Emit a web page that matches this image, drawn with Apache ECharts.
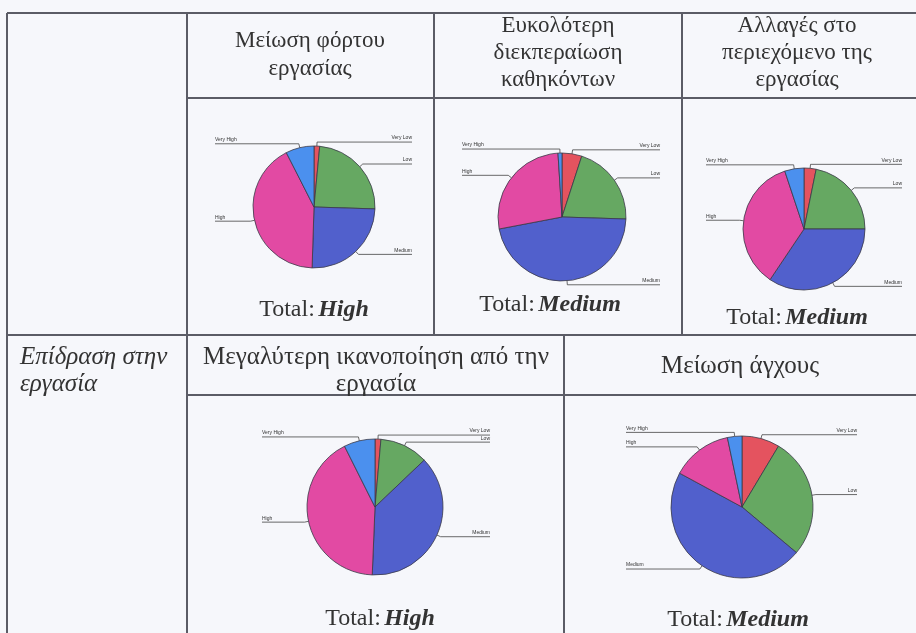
<!DOCTYPE html>
<html>
<head>
<meta charset="utf-8">
<title>Επίδραση στην εργασία</title>
<script src="https://cdn.jsdelivr.net/npm/echarts@6/dist/echarts.min.js"></script>
<style>
  html, body { margin: 0; padding: 0; background: #f6f7fb; }
  #chart { width: 916px; height: 633px; }
</style>
</head>
<body>
<div id="chart"></div>
<script>
// κατηγορίες (δεξιόστροφα από τις 12)
const levels = ['Very Low', 'Low', 'Medium', 'High', 'Very High']
const levelColors = ['#e4535f', '#66a862', '#5160cc', '#e24aa3', '#4b90ee']

// ποσοστά ανά γράφημα (εκτίμηση από την εικόνα)
const workloadValues = [1.5, 24, 25, 42, 7.5]
const tasksValues = [5, 20.5, 46.5, 27, 1]
const contentValues = [3.2, 21.8, 34.4, 35.5, 5.1]
const satisfactionValues = [1.4, 11.5, 37.8, 42, 7.4]
const stressValues = [8.6, 27.5, 46.8, 13.8, 3.3]

// κείμενα
const headerTitles = [
  ['Μείωση φόρτου', 'εργασίας'],
  ['Ευκολότερη', 'διεκπεραίωση', 'καθηκόντων'],
  ['Αλλαγές στο', 'περιεχόμενο της', 'εργασίας'],
  ['Μεγαλύτερη ικανοποίηση από την', 'εργασία'],
  ['Μείωση άγχους']
]
const totals = ['High', 'Medium', 'Medium', 'High', 'Medium']
const rowLabel = ['Επίδραση στην', 'εργασία']

const chart = echarts.init(document.getElementById('chart'))

// θέσεις κελιών / πιτών
const cells = [
  { box: [215, 412], cx: 314, cy: 207, r: 61, values: workloadValues, titleX: 310, titleY: [41, 69], titleSize: 23, totalX: 314, totalY: 310 },
  { box: [462, 660], cx: 562, cy: 217, r: 64, values: tasksValues, titleX: 558, titleY: [26, 53, 80], titleSize: 23, totalX: 550, totalY: 305 },
  { box: [706, 902], cx: 804, cy: 229, r: 61, values: contentValues, titleX: 797, titleY: [26, 53, 80], titleSize: 23, totalX: 797, totalY: 318 },
  { box: [262, 490], cx: 375, cy: 507, r: 68, values: satisfactionValues, titleX: 376, titleY: [357, 384], titleSize: 25, totalX: 380, totalY: 619 },
  { box: [626, 857], cx: 742, cy: 507, r: 71, values: stressValues, titleX: 740, titleY: [366], titleSize: 25, totalX: 738, totalY: 620 }
]

const lineColor = '#5b5c66'
const serif = '"Liberation Serif", "DejaVu Serif", serif'

const graphics = []
const hline = (x1, x2, y) => graphics.push({ type: 'line', shape: { x1: x1, y1: y, x2: x2, y2: y }, style: { stroke: lineColor, lineWidth: 2 } })
const vline = (x, y1, y2) => graphics.push({ type: 'line', shape: { x1: x, y1: y1, x2: x, y2: y2 }, style: { stroke: lineColor, lineWidth: 2 } })

// γραμμές πίνακα
hline(7, 916, 13)
hline(187, 916, 98)
hline(7, 916, 335)
hline(187, 916, 395)
vline(7, 13, 633)
vline(187, 13, 633)
vline(434, 13, 335)
vline(682, 13, 335)
vline(564, 335, 633)

// επικεφαλίδες
cells.forEach((c, i) => {
  headerTitles[i].forEach((t, j) => {
    graphics.push({
      type: 'text',
      style: { text: t, x: c.titleX, y: c.titleY[j], font: c.titleSize + 'px ' + serif, fill: '#333', align: 'center', verticalAlign: 'middle' }
    })
  })
  graphics.push({
    type: 'text',
    style: {
      text: '{a|Total:} {b|' + totals[i] + '}',
      x: c.totalX, y: c.totalY, align: 'center', verticalAlign: 'middle',
      rich: {
        a: { font: '24px ' + serif, fill: '#333' },
        b: { font: 'italic bold 24px ' + serif, fill: '#333' }
      }
    }
  })
})

rowLabel.forEach((t, j) => {
  graphics.push({
    type: 'text',
    style: { text: t, x: 20, y: 357 + j * 27, font: 'italic 25px ' + serif, fill: '#333', align: 'left', verticalAlign: 'middle' }
  })
})

// σειρές πίτας
const series = cells.map((c) => ({
  type: 'pie',
  left: c.box[0],
  top: 0,
  width: c.box[1] - c.box[0],
  height: 633,
  center: [c.cx - c.box[0], c.cy],
  radius: [0, c.r],
  startAngle: 90,
  clockwise: true,
  silent: true,
  data: levels.map((name, k) => ({ name: name, value: c.values[k] })),
  itemStyle: { borderColor: '#3a3a48', borderWidth: 0.8 },
  label: {
    show: true,
    position: 'outside',
    alignTo: 'edge',
    edgeDistance: 0,
    fontSize: 5,
    fontFamily: 'Arial, "Liberation Sans", sans-serif',
    color: '#333',
    formatter: '{b}'
  },
  labelLine: { show: true, length: 4, length2: 4, lineStyle: { color: '#444', width: 0.8 } },
  labelLayout: function (params) {
    const pts = params.labelLinePoints
    if (!pts) return {}
    const rect = params.labelRect
    const onLeft = pts[2][0] < pts[0][0]
    const endX = onLeft ? rect.x : rect.x + rect.width
    return {
      dy: -4,
      labelLinePoints: [pts[0], pts[1], [endX, pts[2][1]]]
    }
  }
}))

chart.setOption({
  backgroundColor: '#f6f7fb',
  animation: false,
  color: levelColors,
  graphic: graphics,
  series: series
})
</script>
</body>
</html>
